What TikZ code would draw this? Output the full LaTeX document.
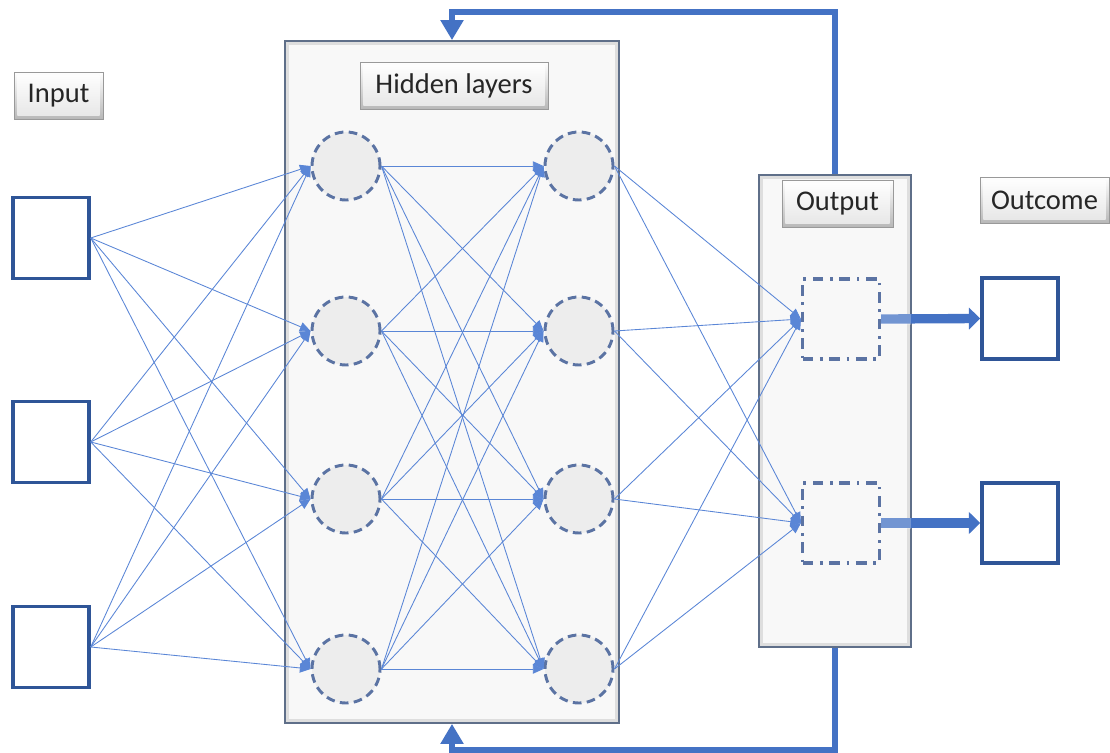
\documentclass[tikz,border=0pt]{standalone}
\usepackage{fontspec}
\setmainfont{Carlito}
\usetikzlibrary{arrows.meta,shadows,calc}
\definecolor{linkblue}{HTML}{5A86D6}
\definecolor{frameblue}{HTML}{2F5597}
\definecolor{dashblue}{HTML}{5B73A3}
\definecolor{flowblue}{HTML}{4472C4}
\definecolor{paneledge}{HTML}{5F6F89}
\definecolor{panelfill}{HTML}{F8F8F8}
\definecolor{neuronfill}{HTML}{EDEDED}
\definecolor{labeltext}{HTML}{262626}
\begin{document}
\begin{tikzpicture}[x=0.75pt,y=-0.75pt,
  panel/.style={rectangle,draw=paneledge,line width=1.3pt,fill=panelfill,inner sep=0pt,
    path picture={\draw[black!13,line width=2.5pt]
      ([shift={(1.6pt,-1.6pt)}]path picture bounding box.north west) rectangle
      ([shift={(-1.6pt,1.6pt)}]path picture bounding box.south east);}},
  neuron/.style={circle,draw=dashblue,fill=neuronfill,line width=2.2pt,
    dash pattern=on 6.5pt off 4pt,minimum size=51pt,inner sep=0pt},
  databox/.style={rectangle,draw=frameblue,line width=2.6pt,fill=white,
    minimum width=57pt,minimum height=61pt,inner sep=0pt},
  outbox/.style={rectangle,draw=dashblue,line width=2.3pt,
    dash pattern=on 8pt off 5pt on 2pt off 5pt,
    minimum width=57.75pt,minimum height=60pt,inner sep=0pt},
  btn/.style={rectangle,draw=black!40,line width=0.6pt,top color=white,bottom color=black!28,
    inner sep=0pt,text=labeltext,font=\fontsize{21.4pt}{25pt}\selectfont,
    drop shadow={opacity=0.15,shadow xshift=1pt,shadow yshift=-1pt},
    path picture={\shade[top color=white,bottom color=black!10]
      ([shift={(2.6pt,-2.6pt)}]path picture bounding box.north west) rectangle
      ([shift={(-2.6pt,2.6pt)}]path picture bounding box.south east);}},
  link/.style={draw=linkblue,line width=0.65pt,-{Triangle[length=8pt,width=7pt]}},
  feed/.style={draw=flowblue,line width=4.6pt,line join=miter,-{Triangle[length=15pt,width=16.5pt]}},
  result/.style={draw=flowblue,line width=7pt,-{Triangle[length=8.5pt,width=16pt]}}
]
\useasboundingbox (0,0) rectangle (1110,753);

% panels
\node[panel,minimum width=250.5pt,minimum height=511.5pt] (hpanel) at (452,382) {};
\node[panel,minimum width=114pt,minimum height=354pt] (opanel) at (835,411) {};

% labels
\node[btn,minimum width=66.75pt,minimum height=35.25pt] (lin) at (58.5,95.5) {Input};
\node[btn,minimum width=141pt,minimum height=35.25pt] (lhid) at (454,85.5) {Hidden layers};
\node[btn,minimum width=83.25pt,minimum height=35.25pt] (lout) at (837.5,203.5) {Output};
\node[btn,minimum width=96.75pt,minimum height=34.5pt] (lres) at (1044.5,200) {Outcome};

% input and outcome boxes
\foreach \i/\y in {1/238,2/442,3/647}
  \node[databox] (in-\i) at (51,\y) {};
\node[databox,minimum height=60.75pt] (oc-1) at (1020,318.5) {};
\node[databox,minimum height=60pt] (oc-2) at (1020,523) {};

% hidden neurons
\foreach \i/\y in {1/166,2/331,3/499,4/669}{
  \node[neuron] (h1-\i) at (346,\y) {};
  \node[neuron] (h2-\i) at (579,\y) {};
}

% output units
\node[outbox] (ob-1) at (841,319) {};
\node[outbox] (ob-2) at (841,523) {};

% fully connected links
\foreach \i in {1,2,3}
  \foreach \j in {1,2,3,4}
    \draw[link] (in-\i.east) -- (h1-\j.west);
\foreach \i in {1,2,3,4}
  \foreach \j in {1,2,3,4}
    \draw[link] (h1-\i.east) -- (h2-\j.west);
\foreach \i in {1,2,3,4}
  \foreach \j in {1,2}
    \draw[link] (h2-\i.east) -- (ob-\j.west);

% results passed on
\foreach \j in {1,2}{
  \draw[result] (ob-\j.east) -- (oc-\j.west);
  \fill[white,opacity=0.25] ($(ob-\j.east)+(0,-5.5)$) rectangle ($(ob-\j.east -| opanel.east)+(-1,5.5)$);
}

% feedback into the hidden layers
\draw[feed] (opanel.north) -- ++(0,-162) -| (hpanel.north);
\draw[feed] (opanel.south) -- ++(0,102) -| (hpanel.south);
\end{tikzpicture}
\end{document}
